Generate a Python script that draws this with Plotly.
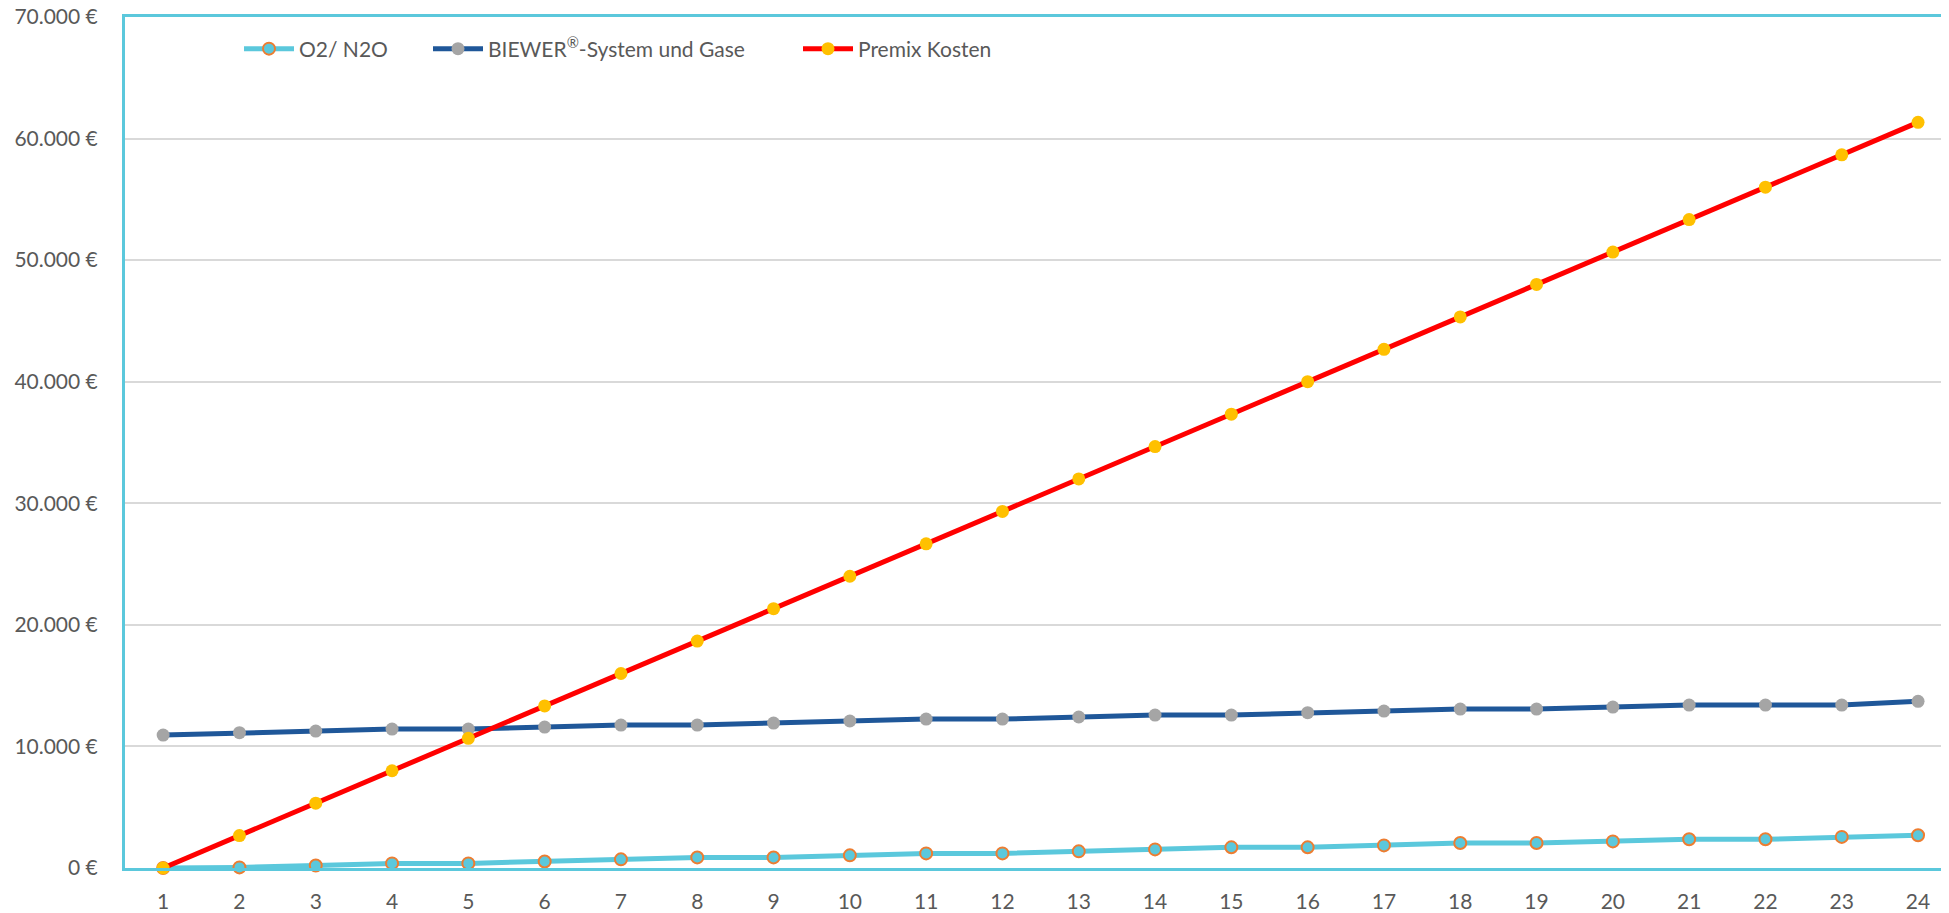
import plotly.graph_objects as go

# ---- data ----
months = list(range(1, 25))
o2_n2o = [0, 50, 210, 380, 380, 540, 710, 870, 870, 1040, 1200, 1200,
          1370, 1530, 1700, 1700, 1860, 2060, 2060, 2190, 2360, 2360, 2560, 2690]
biewer = [10930, 11130, 11260, 11430, 11430, 11590, 11760, 11760, 11920, 12090, 12250, 12250,
          12420, 12580, 12580, 12780, 12910, 13070, 13070, 13240, 13400, 13400, 13400, 13710]
premix = [0, 2667, 5333, 8000, 10667, 13333, 16000, 18667, 21333, 24000, 26667, 29333,
          32000, 34667, 37333, 40000, 42667, 45333, 48000, 50667, 53333, 56000, 58667, 61333]
series_names = ["O2/ N2O", "BIEWER<sup>®</sup>-System und Gase", "Premix Kosten"]
y_tick_values = [0, 10000, 20000, 30000, 40000, 50000, 60000, 70000]
y_tick_labels = ["0 €", "10.000 €", "20.000 €", "30.000 €", "40.000 €", "50.000 €", "60.000 €", "70.000 €"]

# the page body has an 8px default margin, so the figure is 8px smaller
W, H = 1941, 905
L, R, T, B = 117, 0, 9, 45
plot_w = W - L - R
plot_h = H - T - B

AXIS_CYAN = "#5bc8dc"
TEXT = "#595959"
FONT = "Lato"

fig = go.Figure()
fig.add_trace(go.Scatter(
    x=months, y=o2_n2o, name=series_names[0], mode="lines+markers",
    line=dict(color="#5bc8dc", width=5),
    marker=dict(size=12, color="#5bc8dc", line=dict(color="#ed7d31", width=2)),
    cliponaxis=False, legend="legend", showlegend=True))
fig.add_trace(go.Scatter(
    x=months, y=biewer, name=series_names[1], mode="lines+markers",
    line=dict(color="#1f5799", width=5),
    marker=dict(size=13, color="#a5a5a5"),
    cliponaxis=False, legend="legend2", showlegend=True))
fig.add_trace(go.Scatter(
    x=months, y=premix, name=series_names[2], mode="lines+markers",
    line=dict(color="#ff0000", width=5),
    marker=dict(size=13, color="#ffc000"),
    cliponaxis=False, legend="legend3", showlegend=True))

def px_x(p):
    # p: horizontal page pixel; plot area starts at page x = L + 8
    return (p - (L + 8)) / plot_w

leg_y = 1 - (49 - (T + 8)) / plot_h
leg_common = dict(orientation="h", yanchor="middle", y=leg_y, xanchor="left",
                  bgcolor="rgba(0,0,0,0)", borderwidth=0, itemwidth=50,
                  font=dict(family=FONT, size=21, color=TEXT))

fig.update_layout(
    width=W, height=H,
    showlegend=True,
    margin=dict(l=L, r=R, t=T, b=B, pad=0, autoexpand=False),
    paper_bgcolor="white", plot_bgcolor="white",
    font=dict(family=FONT, color=TEXT),
    legend=dict(x=px_x(239), **leg_common),
    legend2=dict(x=px_x(428), **leg_common),
    legend3=dict(x=px_x(798), **leg_common),
    xaxis=dict(
        range=[0.5, 0.5 + plot_w / 76.3],
        tickmode="array", tickvals=months, ticktext=[str(m) for m in months],
        showgrid=False, zeroline=False, automargin=False,
        showline=True, linecolor=AXIS_CYAN, linewidth=3, mirror=True,
        ticks="", ticklabelstandoff=13, ticklabeloverflow="allow",
        tickfont=dict(family=FONT, size=21, color=TEXT),
    ),
    yaxis=dict(
        range=[0, 70000], automargin=False,
        tickmode="array", tickvals=y_tick_values, ticktext=y_tick_labels,
        showgrid=True, gridcolor="#d9d9d9", gridwidth=1.5,
        zeroline=True, zerolinecolor="#d9d9d9", zerolinewidth=1.5,
        showline=True, linecolor=AXIS_CYAN, linewidth=3,
        ticks="", ticklabelstandoff=20, ticklabeloverflow="allow",
        tickfont=dict(family=FONT, size=21, color=TEXT),
    ),
)

fig.write_html("out.html")
